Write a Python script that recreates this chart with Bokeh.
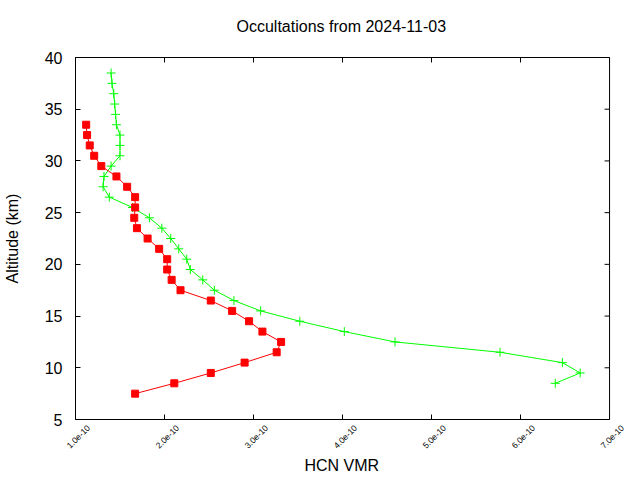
import math
from bokeh.plotting import figure
from bokeh.models import Range1d, LinearAxis, FixedTicker, CustomJSTickFormatter, Span, Title
from bokeh.embed import file_html
from bokeh.resources import INLINE

title_text = "Occultations from 2024-11-03"
x_label = "HCN VMR"
y_label = "Altitude (km)"

red_alt = [33.5, 32.5, 31.5, 30.5, 29.5, 28.5, 27.5, 26.5, 25.5, 24.5, 23.5, 22.5, 21.5,
           20.5, 19.5, 18.5, 17.5, 16.5, 15.5, 14.5, 13.5, 12.5, 11.5, 10.5, 9.5, 8.5, 7.5]
red_vmr = [1.12e-10, 1.13e-10, 1.16e-10, 1.21e-10, 1.29e-10, 1.46e-10, 1.58e-10, 1.67e-10,
           1.67e-10, 1.66e-10, 1.69e-10, 1.81e-10, 1.94e-10, 2.03e-10, 2.03e-10, 2.08e-10,
           2.18e-10, 2.52e-10, 2.76e-10, 2.95e-10, 3.10e-10, 3.31e-10, 3.26e-10, 2.90e-10,
           2.52e-10, 2.11e-10, 1.67e-10]

green_alt = [38.5, 37.5, 36.5, 35.5, 34.5, 33.5, 32.5, 31.5, 30.5, 29.5, 28.5, 27.5, 26.5,
             25.5, 24.5, 23.5, 22.5, 21.5, 20.5, 19.5, 18.5, 17.5, 16.5, 15.5, 14.5, 13.5,
             12.5, 11.5, 10.5, 9.5, 8.5]
green_vmr = [1.40e-10, 1.41e-10, 1.43e-10, 1.44e-10, 1.45e-10, 1.46e-10, 1.50e-10, 1.50e-10,
             1.50e-10, 1.40e-10, 1.32e-10, 1.31e-10, 1.38e-10, 1.64e-10, 1.83e-10, 1.97e-10,
             2.07e-10, 2.16e-10, 2.25e-10, 2.29e-10, 2.43e-10, 2.56e-10, 2.78e-10, 3.08e-10,
             3.52e-10, 4.02e-10, 4.59e-10, 5.77e-10, 6.47e-10, 6.67e-10, 6.39e-10]

x_ticks = [1e-10, 2e-10, 3e-10, 4e-10, 5e-10, 6e-10, 7e-10]
y_ticks = [5, 10, 15, 20, 25, 30, 35, 40]

X0, X1 = 1e-10, 7e-10
Y0, Y1 = 5, 40
FONT = "Liberation Sans"

# layout in pixels
LEFT, TOP, BOTTOM = 74, 57, 61
BOX_W = 535                    # width of the drawn box (X0..X1)
W, H = 640, 480
EXTRA_PX = W - LEFT - BOX_W    # frame continues to the right edge so labels can overhang
dx_per_px = (X1 - X0) / BOX_W

p = figure(width=W, height=H, output_backend="svg", toolbar_location=None,
           x_range=Range1d(X0, X1 + EXTRA_PX * dx_per_px), y_range=Range1d(Y0, Y1),
           min_border_left=LEFT, min_border_right=0, min_border_top=TOP, min_border_bottom=BOTTOM,
           x_axis_location=None, y_axis_location=None)
p.grid.visible = False
p.outline_line_color = None
p.background_fill_color = "white"
p.border_fill_color = "white"

# rotated x labels centred under their ticks: label-only axis on a range shifted by 13 px
shift = 13 * dx_per_px
p.extra_x_ranges = {"labels": Range1d(X0 - shift, X1 + EXTRA_PX * dx_per_px - shift)}

fmt = CustomJSTickFormatter(code="return tick.toExponential(1);")
blank = CustomJSTickFormatter(code="return '';")

def style(ax, labels=True):
    ax.axis_line_color = "black"
    ax.major_tick_in = 5
    ax.major_tick_out = 0
    ax.minor_tick_in = 0
    ax.minor_tick_out = 0
    ax.major_tick_line_color = "black"
    ax.major_label_text_font = FONT
    ax.major_label_text_color = "black"
    ax.axis_label_text_font = FONT
    ax.axis_label_text_font_style = "normal"
    ax.axis_label_text_color = "black"
    if not labels:
        ax.formatter = blank
        ax.major_label_standoff = 0

# bottom edge with ticks
xb_ticks = LinearAxis(ticker=FixedTicker(ticks=x_ticks), bounds=(X0, X1))
style(xb_ticks, labels=False)
p.add_layout(xb_ticks, "below")

# bottom tick labels
xb = LinearAxis(ticker=FixedTicker(ticks=x_ticks), formatter=fmt,
                x_range_name="labels", bounds=(X0 - shift, X1 - shift))
style(xb)
xb.axis_line_color = None
xb.major_tick_line_color = None
xb.major_tick_in = 0
xb.major_label_orientation = math.pi / 4
xb.major_label_text_font_size = "8.5px"
xb.major_label_standoff = 7
p.add_layout(xb, "below")

# x axis title, placed under the box centre
xt_title = Title(text=x_label, align="left", offset=229, text_font=FONT, text_font_size="16px",
                 text_font_style="normal", text_color="black", standoff=0)
p.add_layout(xt_title, "below")

# left axis
yl = LinearAxis(ticker=FixedTicker(ticks=y_ticks), axis_label=y_label)
style(yl)
yl.major_label_text_font_size = "16px"
yl.major_label_standoff = 13
yl.axis_label_text_font_size = "16px"
yl.axis_label_standoff = 21
p.add_layout(yl, "left")

# top edge with ticks
xt = LinearAxis(ticker=FixedTicker(ticks=x_ticks), bounds=(X0, X1))
style(xt, labels=False)
p.add_layout(xt, "above")

# empty spacer between top edge and title
spacer = LinearAxis(ticker=FixedTicker(ticks=x_ticks), bounds=(X0, X1), formatter=blank)
spacer.axis_line_color = None
spacer.major_tick_line_color = None
spacer.minor_tick_line_color = None
spacer.major_tick_in = 0
spacer.major_tick_out = 18
spacer.major_label_standoff = 0
p.add_layout(spacer, "above")

t = Title(text=title_text, align="left", offset=161, text_font=FONT, text_font_size="16px",
          text_font_style="normal", text_color="black", standoff=9)
p.add_layout(t, "above")

# right edge of the box with inward ticks
p.add_layout(Span(location=X1, dimension="height", line_color="black", line_width=1))
tick_len = 5 * dx_per_px
p.segment(x0=[X1 - tick_len] * len(y_ticks), y0=y_ticks, x1=[X1] * len(y_ticks), y1=y_ticks,
          line_color="black", line_width=1)

p.line(green_vmr, green_alt, line_color="#00ff00", line_width=1)
p.scatter(green_vmr, green_alt, marker="cross", size=9, line_color="#00ff00", line_width=1)
p.line(red_vmr, red_alt, line_color="#ff0000", line_width=1)
p.scatter(red_vmr, red_alt, marker="square", size=7, fill_color="#ff0000", line_color="#ff0000")

open("out.html", "w").write(file_html(p, INLINE))
